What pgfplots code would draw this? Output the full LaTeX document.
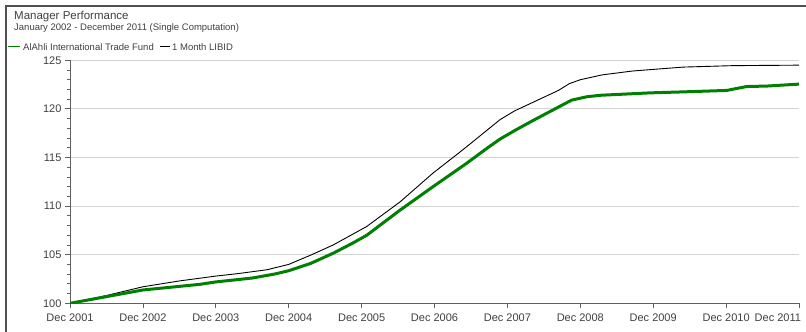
\documentclass[border=0pt]{standalone}
\usepackage{pgfplots}
\pgfplotsset{compat=1.18}
\usepackage{fontspec}
\setmainfont{Liberation Sans}
\definecolor{axisgray}{HTML}{606060}
\definecolor{textgray}{HTML}{404040}
\definecolor{framegray}{HTML}{4C544C}
\definecolor{gridgray}{HTML}{D4D4D4}
\definecolor{fundgreen}{HTML}{008000}
\begin{document}
\begin{tikzpicture}[x=1pt,y=1pt]
\useasboundingbox (0,0) rectangle (806,332);
\fill[white] (0,0) rectangle (806,332);
\draw[framegray, line width=1.3pt] (6,-2) -- (6,326) -- (810,326);
\node[anchor=base west, inner sep=0pt, text=textgray, font=\fontsize{11.5}{13}\selectfont] at (14,312) {Manager Performance};
\node[anchor=base west, inner sep=0pt, text=textgray, font=\fontsize{9.5}{11}\selectfont] at (14,301.5) {January 2002 - December 2011 (Single Computation)};
\draw[fundgreen, line width=1pt] (8,285) -- (20,285);
\node[anchor=base west, inner sep=0pt, text=textgray, font=\fontsize{9.5}{11}\selectfont] at (23,281.5) {AlAhli International Trade Fund};
\draw[black, line width=1pt] (160,285) -- (170,285);
\node[anchor=base west, inner sep=0pt, text=textgray, font=\fontsize{9.5}{11}\selectfont] at (172,281.5) {1 Month LIBID};
\begin{axis}[
  at={(70pt,28.7pt)}, anchor=south west,
  width=729pt, height=243pt, scale only axis,
  xmin=0, xmax=10, ymin=100, ymax=125,
  axis x line*=bottom, axis y line*=left,
  xtick={0,1,...,10},
  xticklabels={Dec 2001,Dec 2002,Dec 2003,Dec 2004,Dec 2005,Dec 2006,Dec 2007,Dec 2008,Dec 2009,Dec 2010,\makebox[4pt][r]{Dec 2011}},
  ytick={100,105,...,125}, minor y tick num=4,
  ymajorgrids, grid style={color=gridgray, line width=1pt},
  tick align=outside, major tick length=5pt, minor tick length=3pt,
  tick style={color=axisgray, line width=0.8pt},
  axis line style={color=axisgray, line width=1pt},
  ticklabel style={font=\fontsize{11}{13}\selectfont, text=textgray},
  xticklabel style={yshift=-2pt},
  /pgf/number format/assume math mode=true,
]
\addplot[black, line width=0.9pt] coordinates {
(0,100) (0.5,100.8) (1.0,101.7) (1.5,102.3) (2.0,102.8) (2.3,103.05) (2.7,103.45) (3.0,104.0) (3.3,104.95) (3.61,106.0) (4.07,107.9) (4.53,110.45) (4.98,113.4) (5.39,115.8) (5.9,118.9) (6.1,119.8) (6.3,120.5) (6.5,121.2) (6.7,121.9) (6.85,122.6) (7.0,123.0) (7.3,123.5) (7.72,123.9) (8.41,124.3) (9.09,124.45) (10.0,124.5)
};
\addplot[fundgreen, line width=3pt] coordinates {
(0,100) (1.0,101.37) (1.78,101.95) (2.0,102.2) (2.5,102.6) (2.8,103.0) (3.0,103.35) (3.3,104.1) (3.61,105.15) (3.88,106.2) (4.07,107.0) (4.53,109.6) (4.98,112.0) (5.44,114.4) (5.72,115.95) (5.90,116.9) (6.13,117.9) (6.35,118.8) (6.88,120.9) (7.09,121.25) (7.27,121.4) (7.96,121.65) (8.41,121.75) (9.01,121.9) (9.28,122.3) (9.56,122.35) (10.0,122.55)
};
\end{axis}
\end{tikzpicture}
\end{document}
